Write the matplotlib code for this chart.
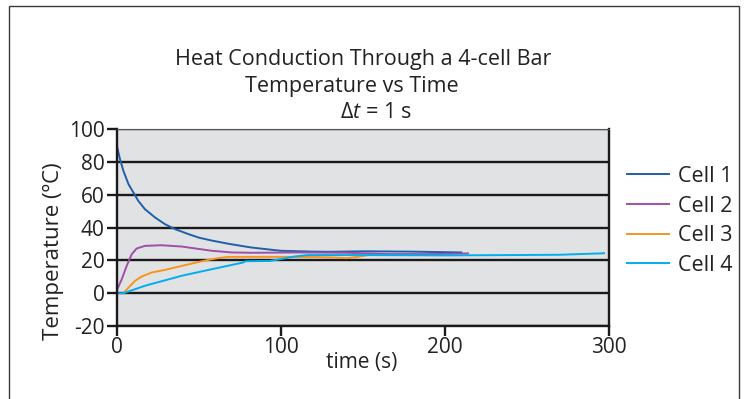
import matplotlib
matplotlib.use("Agg")
import matplotlib.pyplot as plt
from matplotlib.patches import Rectangle

# ---- data ----
cell1_t = [0, 1.8, 3.9, 7, 10, 13, 17, 23.2, 29.3, 35.4, 43.5, 50, 58, 69, 82, 100,
           120, 130, 150, 180, 210]
cell1_T = [89.4, 81.7, 74.5, 66.4, 61.3, 56.2, 51.2, 46.1, 42, 39, 36, 33.8, 32, 29.9,
           27.8, 25.8, 25.3, 25.2, 25.5, 25.3, 24.8]

cell2_t = [0, 2.9, 5.9, 9, 12, 17, 27, 39.5, 48, 58, 70, 82, 110, 140, 165, 190, 205, 214]
cell2_T = [2, 8.5, 16.6, 23.8, 27.2, 28.8, 29.2, 28.4, 27.2, 25.8, 24.8, 24.6, 24.8, 24.6,
           23.8, 23.8, 24.0, 24.2]

cell3_t = [3.9, 7, 11, 15, 21.2, 29.3, 39.5, 48, 55.8, 62, 68, 82, 100, 120, 130, 140, 146, 152]
cell3_T = [0, 3.4, 7.5, 10.1, 12.6, 14.2, 16.6, 18.6, 20.3, 21.4, 22.1, 22.1, 22.1, 22.0,
           21.8, 21.3, 22.0, 23.0]

cell4_t = [0, 4, 17, 39.5, 55, 77, 78, 80, 93, 100, 108, 116, 150, 200, 240, 270, 297]
cell4_T = [0, 0, 4.5, 10.6, 14.0, 18.7, 19.4, 19.5, 19.6, 20.8, 22.3, 23.2, 23.2, 23.0,
           23.2, 23.4, 24.3]

labels = ["Cell 1", "Cell 2", "Cell 3", "Cell 4"]
colors = ["#1f5fa8", "#a04fa8", "#f7941d", "#00aeef"]
xticks = [0, 100, 200, 300]
yticks = [-20, 0, 20, 40, 60, 80, 100]

FONT = "Open Sans"
plt.rcParams["font.family"] = [FONT, "DejaVu Sans"]
plt.rcParams["axes.unicode_minus"] = False
plt.rcParams["mathtext.fontset"] = "custom"
plt.rcParams["mathtext.rm"] = FONT
plt.rcParams["mathtext.it"] = FONT + ":italic"

TXT = "#222222"
W, H = 746, 399
fig = plt.figure(figsize=(W / 100, H / 100), dpi=100)

# outer frame
fig.patches.append(Rectangle((9 / W, -0.1), (739 - 9) / W, 1.1 - 6 / H,
                             transform=fig.transFigure, fill=False,
                             edgecolor="#3a3a3a", linewidth=1.0))

ax = fig.add_axes([117 / W, (H - 326) / H, (609 - 117) / W, (326 - 129) / H])
ax.set_facecolor("#e1e2e4")

series = [(cell1_t, cell1_T), (cell2_t, cell2_T), (cell3_t, cell3_T), (cell4_t, cell4_T)]
for (t, T), lab, c in zip(series, labels, colors):
    ax.plot(t, T, color=c, linewidth=1.4, label=lab, solid_joinstyle="round")

ax.set_xlim(0, 300)
ax.set_ylim(-20, 100)
ax.set_xticks(xticks)
ax.set_yticks(yticks)
ax.yaxis.grid(True, color="#1a1a1a", linewidth=1.7)
ax.set_axisbelow(True)
for s in ["left", "bottom", "right"]:
    ax.spines[s].set_color("#1a1a1a")
    ax.spines[s].set_linewidth(1.7)
ax.spines["top"].set_color("#555555")
ax.spines["top"].set_linewidth(0.8)
ax.tick_params(axis="both", direction="out", length=7, width=1.7, color="#1a1a1a",
               labelsize=15, labelcolor=TXT)
ax.tick_params(axis="x", pad=1)
ax.tick_params(axis="y", pad=2)

ax.set_xlabel("time (s)", fontsize=15, color=TXT)
ax.xaxis.set_label_coords((362 - 117) / (609 - 117), -0.13)
ax.set_ylabel("Temperature (ºC)", fontsize=16, color=TXT)
ax.yaxis.set_label_coords((64 - 117) / (609 - 117), 0.38)

fig.text(363 / W, 1 - 65 / H, "Heat Conduction Through a 4-cell Bar", ha="center",
         va="baseline", fontsize=15.5, color=TXT)
fig.text(352 / W, 1 - 91.7 / H, "Temperature vs Time", ha="center", va="baseline",
         fontsize=15.5, color=TXT)
fig.text(376 / W, 1 - 118.3 / H, r"$\Delta\mathit{t}$ = 1 s", ha="center", va="baseline",
         fontsize=15.5, color=TXT)

leg = ax.legend(loc="upper left", bbox_to_anchor=(627 / W, 1 - 166 / H),
                bbox_transform=fig.transFigure, frameon=False, fontsize=15.5,
                handlelength=1.95, handletextpad=0.4, labelspacing=0.4,
                borderaxespad=0, borderpad=0)
for txt in leg.get_texts():
    txt.set_color(TXT)

fig.savefig("out.png", dpi=100)
